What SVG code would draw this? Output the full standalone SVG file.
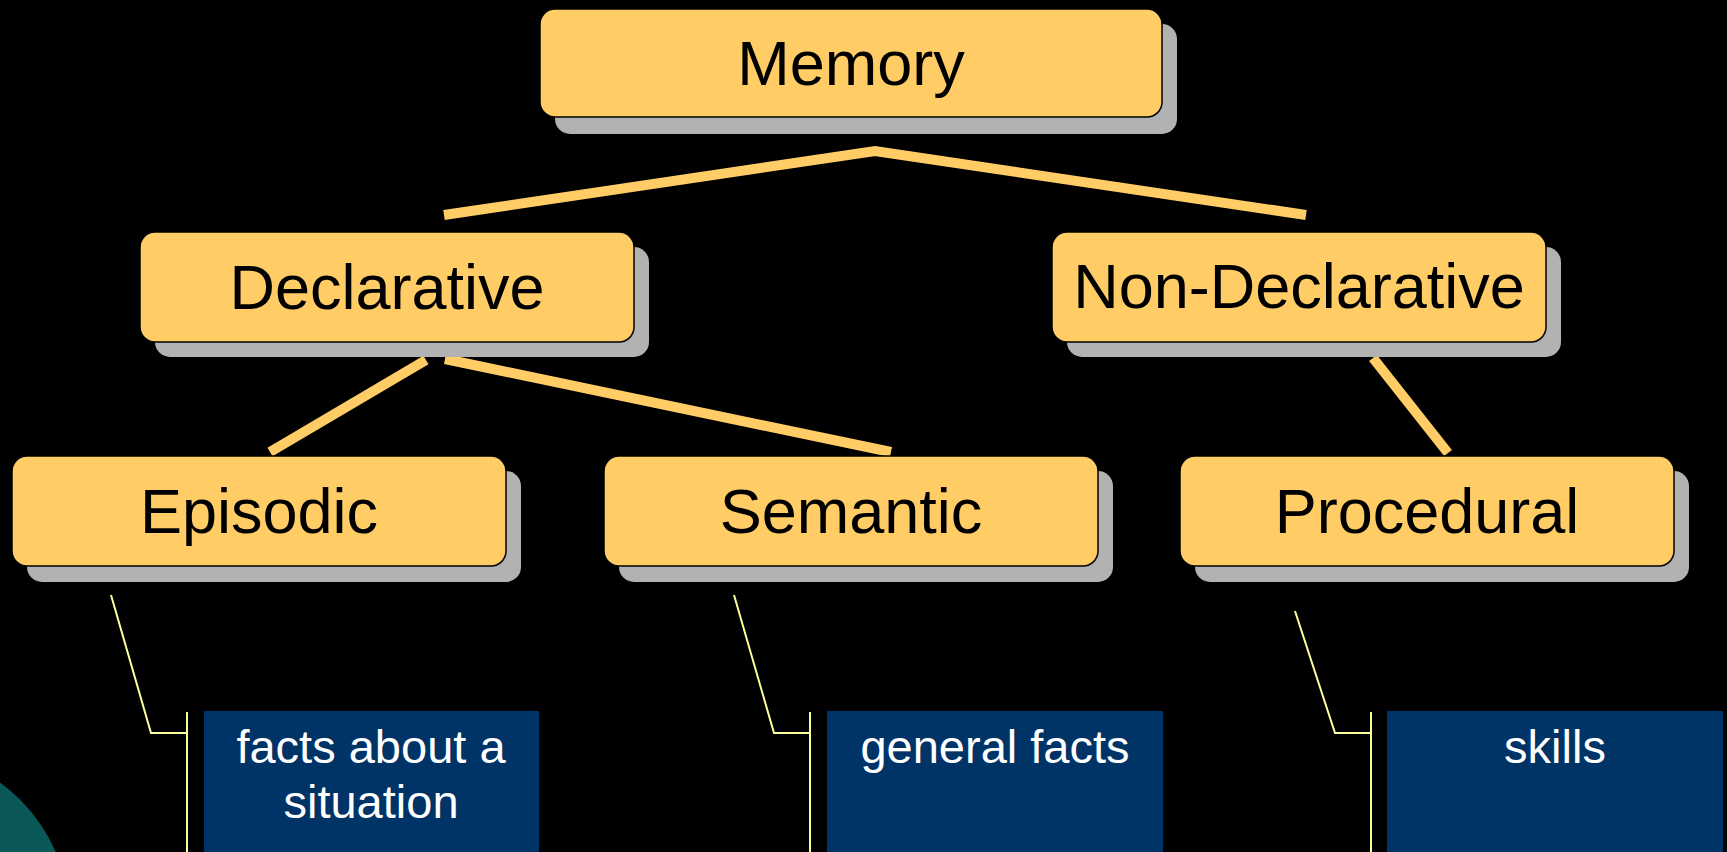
<svg xmlns="http://www.w3.org/2000/svg" width="1727" height="852" viewBox="0 0 1727 852">
  <style>
    .shadow { fill: #B2B2B2; }
    .node { fill: #FFCC66; stroke: #000000; stroke-width: 1.5; }
    .label { font-family: "Liberation Sans", Arial, sans-serif; font-size: 63px; fill: #000000; text-anchor: middle; }
    .link { stroke: #FFCC66; stroke-width: 10; fill: none; stroke-linecap: butt; stroke-linejoin: miter; }
    .callout { stroke: #FFFF99; stroke-width: 2; fill: none; }
    .note { fill: #003366; }
    .note-text { font-family: "Liberation Sans", Arial, sans-serif; font-size: 47px; fill: #FFFFFF; text-anchor: middle; }
  </style>

  <!-- background -->
  <rect x="0" y="0" width="1727" height="852" fill="#000000"/>

  <!-- teal disc in the lower-left corner -->
  <circle cx="-100" cy="920" r="170" fill="#0B5858"/>

  <!-- tree connectors -->
  <g id="connectors">
    <polyline class="link" points="444,215 875,151 1306,215"/>
    <line class="link" x1="426" y1="360" x2="270" y2="452"/>
    <line class="link" x1="445" y1="359" x2="891" y2="452"/>
    <line class="link" x1="1373" y1="358" x2="1448" y2="453"/>
  </g>

  <!-- callout leaders -->
  <g id="callouts">
    <polyline class="callout" points="111,595 151,733 187,733"/>
    <line class="callout" x1="187" y1="712" x2="187" y2="852"/>
    <polyline class="callout" points="734,595 774,733 810,733"/>
    <line class="callout" x1="810" y1="712" x2="810" y2="852"/>
    <polyline class="callout" points="1295,611 1335,733 1371,733"/>
    <line class="callout" x1="1371" y1="712" x2="1371" y2="852"/>
  </g>

  <g id="memory">
    <rect class="shadow" x="555" y="24" width="622" height="110" rx="15"/>
    <rect class="node" x="540" y="9" width="622" height="108" rx="15"/>
    <text class="label" x="851" y="85">Memory</text>
  </g>

  <g id="declarative">
    <rect class="shadow" x="155" y="247" width="494" height="110" rx="15"/>
    <rect class="node" x="140" y="232" width="494" height="110" rx="15"/>
    <text class="label" x="387" y="309">Declarative</text>
  </g>

  <g id="non-declarative">
    <rect class="shadow" x="1067" y="247" width="494" height="110" rx="15"/>
    <rect class="node" x="1052" y="232" width="494" height="110" rx="15"/>
    <text class="label" x="1299" y="308">Non-Declarative</text>
  </g>

  <g id="episodic">
    <rect class="shadow" x="27" y="471" width="494" height="111" rx="15"/>
    <rect class="node" x="12" y="456" width="494" height="110" rx="15"/>
    <text class="label" x="259" y="533">Episodic</text>
  </g>

  <g id="semantic">
    <rect class="shadow" x="619" y="471" width="494" height="111" rx="15"/>
    <rect class="node" x="604" y="456" width="494" height="110" rx="15"/>
    <text class="label" x="851" y="533">Semantic</text>
  </g>

  <g id="procedural">
    <rect class="shadow" x="1195" y="471" width="494" height="111" rx="15"/>
    <rect class="node" x="1180" y="456" width="494" height="110" rx="15"/>
    <text class="label" x="1427" y="533">Procedural</text>
  </g>

  <g id="note-episodic">
    <rect class="note" x="204" y="711" width="335" height="141"/>
    <text class="note-text" x="371" y="763">facts about a</text>
    <text class="note-text" x="371" y="818">situation</text>
  </g>

  <g id="note-semantic">
    <rect class="note" x="827" y="711" width="336" height="141"/>
    <text class="note-text" x="995" y="763">general facts</text>
  </g>

  <g id="note-procedural">
    <rect class="note" x="1387" y="711" width="336" height="141"/>
    <text class="note-text" x="1555" y="763">skills</text>
  </g>
</svg>
